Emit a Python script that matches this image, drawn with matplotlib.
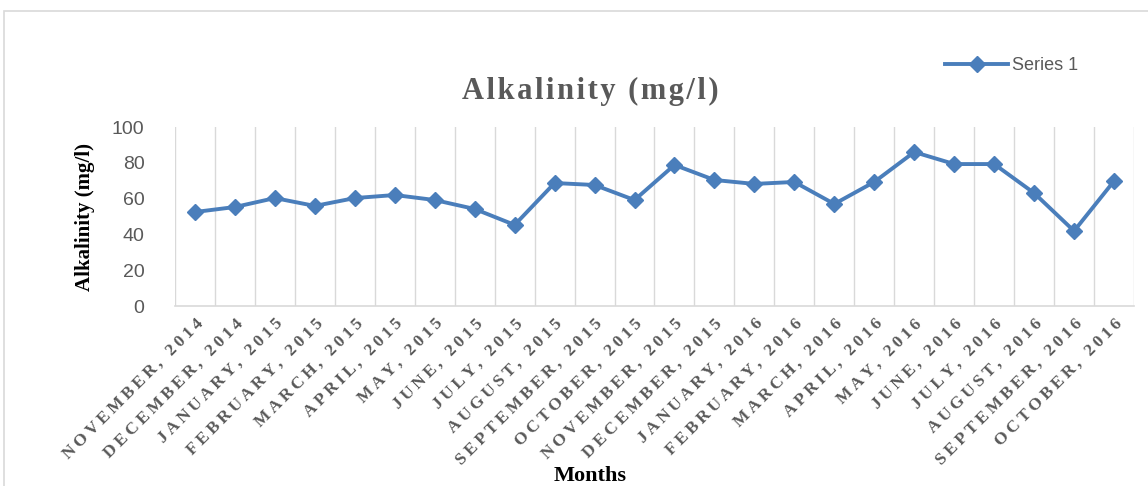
import matplotlib
matplotlib.use("Agg")
import matplotlib.pyplot as plt
from matplotlib.patches import Rectangle
from matplotlib.lines import Line2D

months = ["NOVEMBER, 2014", "DECEMBER, 2014", "JANUARY, 2015", "FEBRUARY, 2015",
          "MARCH, 2015", "APRIL, 2015", "MAY, 2015", "JUNE, 2015", "JULY, 2015",
          "AUGUST, 2015", "SEPTEMBER, 2015", "OCTOBER, 2015", "NOVEMBER, 2015",
          "DECEMBER, 2015", "JANUARY, 2016", "FEBRUARY, 2016", "MARCH, 2016",
          "APRIL, 2016", "MAY, 2016", "JUNE, 2016", "JULY, 2016", "AUGUST, 2016",
          "SEPTEMBER, 2016", "OCTOBER, 2016"]
alkalinity = [52.5, 55.3, 60.3, 55.9, 60.3, 62.0, 59.2, 54.2, 45.3, 68.7, 67.6, 59.2,
              78.8, 70.4, 68.2, 69.3, 57.0, 69.3, 86.0, 79.3, 79.3, 63.1, 41.9, 69.8]
y_ticks = [0, 20, 40, 60, 80, 100]
series_name = "Series 1"

BLUE = "#4a7ebb"
GREY_TEXT = "#595959"
GRID = "#d9d9d9"
SERIF = ["Liberation Serif", "DejaVu Serif"]
SANS = ["Liberation Sans Narrow", "Liberation Sans", "DejaVu Sans"]


def spaced(s, gap="\u2009"):
    return gap.join(s)


fig = plt.figure(figsize=(11.48, 4.86), dpi=100)

# chart frame
fig.patches.append(Rectangle((4 / 1148, -0.05), 1.2, 1 - 11 / 486 + 0.05,
                             transform=fig.transFigure, fill=False,
                             edgecolor=GRID, linewidth=1.2))

ax = fig.add_axes([175 / 1148, 1 - 306 / 486, (1134 - 175) / 1148, (306 - 127) / 486])
x = list(range(len(months)))
ax.plot(x, alkalinity, color=BLUE, linewidth=2.8, marker="D", markersize=8,
        markerfacecolor=BLUE, markeredgecolor=BLUE, zorder=3)

ax.set_xlim(-0.5, len(months) - 0.5)
ax.set_ylim(0, 100)
for b in range(len(months) + 1):
    ax.axvline(b - 0.5, color=GRID, linewidth=1.0, zorder=1)

for s in ["top", "right", "left"]:
    ax.spines[s].set_visible(False)
ax.spines["bottom"].set_color(GRID)
ax.spines["bottom"].set_linewidth(1.2)

ax.set_yticks(y_ticks)
ax.set_yticklabels([str(v) for v in y_ticks], family=SANS, fontsize=14, color=GREY_TEXT)
ax.tick_params(axis="y", length=0, pad=22)
ax.set_xticks(x)
ax.set_xticklabels([spaced(m) for m in months], rotation=45, ha="right",
                   rotation_mode="anchor", family=SERIF, fontweight="bold",
                   fontsize=12.5, color=GREY_TEXT)
ax.tick_params(axis="x", length=0, pad=7)

ax.set_ylabel("Alkalinity (mg/l)", family=SERIF, fontweight="bold", fontsize=15,
              color="black", labelpad=12)

fig.text(590 / 1148, 1 - 91 / 486, spaced("Alkalinity (mg/l)", "\u200a"), family=SERIF,
         fontweight="bold", fontsize=22, color=GREY_TEXT, ha="center", va="center")
fig.text(590 / 1148, 1 - 476 / 486, "Months", family=SERIF, fontweight="bold",
         fontsize=16, color="black", ha="center", va="center")

# legend
handle = Line2D([], [], color=BLUE, linewidth=2.8, marker="D", markersize=8)
fig.legend([handle], [series_name], loc="center left",
           bbox_to_anchor=(938 / 1148, 1 - 66 / 486), frameon=False,
           prop={"family": SANS, "size": 13}, labelcolor=GREY_TEXT,
           handlelength=3.5, handletextpad=0.2, borderaxespad=0)

fig.savefig("out.png", dpi=100)
